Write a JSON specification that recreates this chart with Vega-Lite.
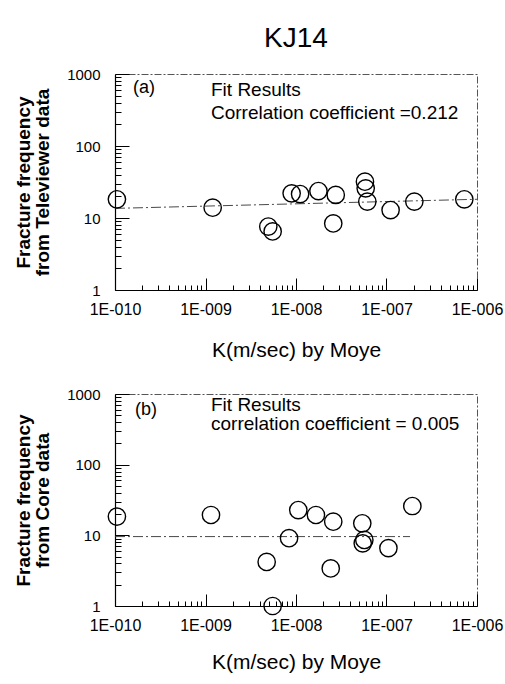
{
  "$schema": "https://vega.github.io/schema/vega-lite/v6.json",
  "background": "white",
  "padding": {"left": 14, "top": 24, "right": 6, "bottom": 5},
  "spacing": 25,
  "config": {
    "font": "Liberation Sans",
    "view": {"stroke": "#555", "strokeDash": [7, 2, 2, 2], "strokeWidth": 1},
    "axis": {"grid": false, "domainColor": "black", "domainWidth": 1.2, "tickColor": "black", "tickWidth": 1, "tickOpacity": 1, "labelColor": "black", "titleColor": "black", "labelFont": "Liberation Sans", "titleFont": "Liberation Sans", "labelOverlap": false, "labelBound": false, "labelFlush": false}
  },
  "datasets": {
    "tv": [
      {"k": 1.05e-10, "f": 18.2}, {"k": 1.2e-9, "f": 13.9}, {"k": 4.94e-9, "f": 7.6}, {"k": 5.52e-9, "f": 6.5},
      {"k": 8.95e-9, "f": 22.0}, {"k": 1.11e-8, "f": 21.5}, {"k": 1.77e-8, "f": 23.7}, {"k": 2.75e-8, "f": 20.9},
      {"k": 2.58e-8, "f": 8.4}, {"k": 5.78e-8, "f": 31.9}, {"k": 5.89e-8, "f": 25.8}, {"k": 6.14e-8, "f": 16.9},
      {"k": 1.11e-7, "f": 12.9}, {"k": 2.03e-7, "f": 16.9}, {"k": 7.24e-7, "f": 18.2}
    ],
    "core": [
      {"k": 1.05e-10, "f": 18.4}, {"k": 1.15e-9, "f": 19.4}, {"k": 4.74e-9, "f": 4.2}, {"k": 5.52e-9, "f": 1.0},
      {"k": 8.38e-9, "f": 9.1}, {"k": 1.06e-8, "f": 22.8}, {"k": 1.66e-8, "f": 19.4}, {"k": 2.58e-8, "f": 15.6},
      {"k": 2.42e-8, "f": 3.4}, {"k": 5.4e-8, "f": 14.8}, {"k": 5.69e-8, "f": 8.6}, {"k": 5.46e-8, "f": 7.7},
      {"k": 1.05e-7, "f": 6.6}, {"k": 1.93e-7, "f": 26.0}
    ],
    "fitA": [{"k": 1e-10, "f": 13.6}, {"k": 1e-6, "f": 18.2}],
    "fitB": [{"k": 1e-10, "f": 9.6}, {"k": 1.82e-7, "f": 9.6}],
    "tagA": [{"k": 1.58e-10, "f": 640, "label": "(a)"}],
    "tagB": [{"k": 1.66e-10, "f": 594, "label": "(b)"}],
    "noteA": [
      {"k": 1.15e-9, "f": 600, "label": "Fit Results"},
      {"k": 1.15e-9, "f": 287, "label": "Correlation coefficient =0.212"}
    ],
    "noteB": [
      {"k": 1.15e-9, "f": 710, "label": "Fit Results"},
      {"k": 1.15e-9, "f": 380, "label": "correlation coefficient = 0.005"}
    ]
  },
  "vconcat": [
    {
      "title": {"text": "KJ14", "fontSize": 28, "fontWeight": "normal", "font": "Liberation Sans", "offset": 14, "color": "black"},
      "width": 362,
      "height": 216,
      "resolve": {"axis": {"x": "independent", "y": "independent"}},
      "layer": [
        {
          "encoding": {
            "x": {
              "field": "k", "type": "quantitative",
              "scale": {"type": "log", "domain": [1e-10, 1e-6]},
              "title": "K(m/sec) by Moye",
              "axis": {
                "orient": "bottom",
                "values": [1e-10, 1e-9, 1e-8, 1e-7, 1e-6],
                "labelExpr": "'1E-0' + format(-round(log(datum.value)/LN10), '02')",
                "ticks": false,
                "labelPadding": 11,
                "labelFontSize": 16,
                "titleFontSize": 21,
                "titleFontWeight": "normal",
                "titlePadding": 22
              }
            },
            "y": {
              "field": "f", "type": "quantitative",
              "scale": {"type": "log", "domain": [1, 1000]},
              "title": ["Fracture frequency", "from Televiewer data"],
              "axis": {
                "orient": "left",
                "values": [1, 10, 100, 1000],
                "labelExpr": "format(datum.value, 'd')",
                "ticks": false,
                "labelPadding": 15,
                "labelFontSize": 15,
                "titleFontSize": 19,
                "titleFontWeight": "bold",
                "titleLineHeight": 19,
                "titlePadding": 14
              }
            }
          },
          "layer": [
            {"data": {"name": "fitA"}, "mark": {"type": "line", "color": "#333", "strokeWidth": 0.9, "strokeDash": [10, 3, 2, 3]}},
            {"data": {"name": "tv"}, "mark": {"type": "point", "shape": "circle", "filled": false, "size": 300, "stroke": "black", "strokeWidth": 1.4, "opacity": 1}},
            {"data": {"name": "tagA"}, "mark": {"type": "text", "align": "left", "baseline": "middle", "fontSize": 18, "color": "black"}, "encoding": {"text": {"field": "label"}}},
            {"data": {"name": "noteA"}, "mark": {"type": "text", "align": "left", "baseline": "middle", "fontSize": 19, "color": "black"}, "encoding": {"text": {"field": "label"}}}
          ]
        },
        {
          "data": {"name": "fitA"},
          "mark": {"type": "line", "opacity": 0},
          "encoding": {
            "x": {
              "field": "k", "type": "quantitative",
              "scale": {"type": "log", "domain": [1e-10, 1e-6]},
              "axis": {"orient": "bottom", "title": null, "labels": false, "domain": false, "ticks": true, "tickSize": 12, "offset": -12,
                "values": [1e-10, 1e-9, 1e-8, 1e-7, 1e-6]}
            },
            "y": {
              "field": "f", "type": "quantitative",
              "scale": {"type": "log", "domain": [1, 1000]},
              "axis": {"orient": "left", "title": null, "labels": false, "domain": false, "ticks": true, "tickSize": 14, "offset": -14,
                "values": [1, 10, 100, 1000]}
            }
          }
        },
        {
          "data": {"name": "fitA"},
          "mark": {"type": "line", "opacity": 0},
          "encoding": {
            "x": {
              "field": "k", "type": "quantitative",
              "scale": {"type": "log", "domain": [1e-10, 1e-6]},
              "axis": {"orient": "bottom", "title": null, "labels": false, "domain": false, "ticks": true, "tickSize": 5, "offset": -5,
                "values": [2e-10, 3e-10, 4e-10, 5e-10, 6e-10, 7e-10, 8e-10, 9e-10, 2e-9, 3e-9, 4e-9, 5e-9, 6e-9, 7e-9, 8e-9, 9e-9, 2e-8, 3e-8, 4e-8, 5e-8, 6e-8, 7e-8, 8e-8, 9e-8, 2e-7, 3e-7, 4e-7, 5e-7, 6e-7, 7e-7, 8e-7, 9e-7]}
            },
            "y": {
              "field": "f", "type": "quantitative",
              "scale": {"type": "log", "domain": [1, 1000]},
              "axis": {"orient": "left", "title": null, "labels": false, "domain": false, "ticks": true, "tickSize": 6, "offset": -6,
                "values": [2, 3, 4, 5, 6, 7, 8, 9, 20, 30, 40, 50, 60, 70, 80, 90, 200, 300, 400, 500, 600, 700, 800, 900]}
            }
          }
        }
      ]
    },
    {
      "width": 362,
      "height": 212,
      "resolve": {"axis": {"x": "independent", "y": "independent"}},
      "layer": [
        {
          "encoding": {
            "x": {
              "field": "k", "type": "quantitative",
              "scale": {"type": "log", "domain": [1e-10, 1e-6]},
              "title": "K(m/sec) by Moye",
              "axis": {
                "orient": "bottom",
                "values": [1e-10, 1e-9, 1e-8, 1e-7, 1e-6],
                "labelExpr": "'1E-0' + format(-round(log(datum.value)/LN10), '02')",
                "ticks": false,
                "labelPadding": 11,
                "labelFontSize": 16,
                "titleFontSize": 21,
                "titleFontWeight": "normal",
                "titlePadding": 18
              }
            },
            "y": {
              "field": "f", "type": "quantitative",
              "scale": {"type": "log", "domain": [1, 1000]},
              "title": ["Fracture frequency", "from Core data"],
              "axis": {
                "orient": "left",
                "values": [1, 10, 100, 1000],
                "labelExpr": "format(datum.value, 'd')",
                "ticks": false,
                "labelPadding": 15,
                "labelFontSize": 15,
                "titleFontSize": 19,
                "titleFontWeight": "bold",
                "titleLineHeight": 19,
                "titlePadding": 14
              }
            }
          },
          "layer": [
            {"data": {"name": "fitB"}, "mark": {"type": "line", "color": "#333", "strokeWidth": 0.9, "strokeDash": [10, 3, 2, 3]}},
            {"data": {"name": "core"}, "mark": {"type": "point", "shape": "circle", "filled": false, "size": 300, "stroke": "black", "strokeWidth": 1.4, "opacity": 1}},
            {"data": {"name": "tagB"}, "mark": {"type": "text", "align": "left", "baseline": "middle", "fontSize": 18, "color": "black"}, "encoding": {"text": {"field": "label"}}},
            {"data": {"name": "noteB"}, "mark": {"type": "text", "align": "left", "baseline": "middle", "fontSize": 19, "color": "black"}, "encoding": {"text": {"field": "label"}}}
          ]
        },
        {
          "data": {"name": "fitB"},
          "mark": {"type": "line", "opacity": 0},
          "encoding": {
            "x": {
              "field": "k", "type": "quantitative",
              "scale": {"type": "log", "domain": [1e-10, 1e-6]},
              "axis": {"orient": "bottom", "title": null, "labels": false, "domain": false, "ticks": true, "tickSize": 12, "offset": -12,
                "values": [1e-10, 1e-9, 1e-8, 1e-7, 1e-6]}
            },
            "y": {
              "field": "f", "type": "quantitative",
              "scale": {"type": "log", "domain": [1, 1000]},
              "axis": {"orient": "left", "title": null, "labels": false, "domain": false, "ticks": true, "tickSize": 14, "offset": -14,
                "values": [1, 10, 100, 1000]}
            }
          }
        },
        {
          "data": {"name": "fitB"},
          "mark": {"type": "line", "opacity": 0},
          "encoding": {
            "x": {
              "field": "k", "type": "quantitative",
              "scale": {"type": "log", "domain": [1e-10, 1e-6]},
              "axis": {"orient": "bottom", "title": null, "labels": false, "domain": false, "ticks": true, "tickSize": 5, "offset": -5,
                "values": [2e-10, 3e-10, 4e-10, 5e-10, 6e-10, 7e-10, 8e-10, 9e-10, 2e-9, 3e-9, 4e-9, 5e-9, 6e-9, 7e-9, 8e-9, 9e-9, 2e-8, 3e-8, 4e-8, 5e-8, 6e-8, 7e-8, 8e-8, 9e-8, 2e-7, 3e-7, 4e-7, 5e-7, 6e-7, 7e-7, 8e-7, 9e-7]}
            },
            "y": {
              "field": "f", "type": "quantitative",
              "scale": {"type": "log", "domain": [1, 1000]},
              "axis": {"orient": "left", "title": null, "labels": false, "domain": false, "ticks": true, "tickSize": 6, "offset": -6,
                "values": [2, 3, 4, 5, 6, 7, 8, 9, 20, 30, 40, 50, 60, 70, 80, 90, 200, 300, 400, 500, 600, 700, 800, 900]}
            }
          }
        }
      ]
    }
  ]
}
